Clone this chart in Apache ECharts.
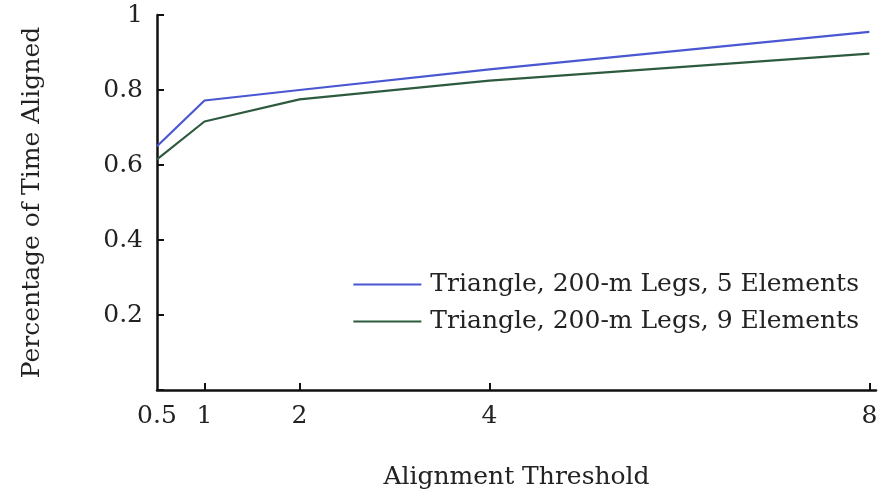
<!DOCTYPE html>
<html><head><meta charset="utf-8">
<script src="https://cdn.jsdelivr.net/npm/echarts@6/dist/echarts.min.js"></script>
<style>html,body{margin:0;padding:0;background:#fff}#c{width:884px;height:495px}</style>
</head><body><div id="c"></div>
<script>
const thresholds = [0.5, 1, 2, 4, 8];
const xTickLabels = [0.5, 1, 2, 4, 8];
const yTickLabels = [0.2, 0.4, 0.6, 0.8, 1];
const series5 = [0.650, 0.772, 0.800, 0.855, 0.955];
const series9 = [0.615, 0.716, 0.775, 0.825, 0.897];
const seriesNames = ['Triangle, 200-m Legs, 5 Elements', 'Triangle, 200-m Legs, 9 Elements'];

const font = 'DejaVu Serif';
const fs = 25;
const chart = echarts.init(document.getElementById('c'));
const toPairs = v => thresholds.map((t, i) => [t, v[i]]);
chart.setOption({
  animation: false,
  grid: {left: 157, right: 8, top: 15, bottom: 103},
  legend: {
    orient: 'vertical', right: 20, top: 267, itemWidth: 68, itemHeight: 2, itemGap: 12,
    icon: 'rect',
    textStyle: {fontFamily: font, fontSize: fs, color: '#222', padding: [0, 0, 0, 4]},
    data: seriesNames
  },
  xAxis: {
    type: 'value', min: 0.5, max: 8.07,
    name: 'Alignment Threshold', nameLocation: 'middle', nameGap: 75,
    nameTextStyle: {fontFamily: font, fontSize: fs, color: '#222'},
    axisLine: {lineStyle: {color: '#111', width: 2.5}},
    axisTick: {inside: true, length: 7, lineStyle: {width: 2}, customValues: [1, 2, 4, 8]},
    axisLabel: {customValues: xTickLabels, fontFamily: font, fontSize: fs, color: '#222', margin: 14},
    splitLine: {show: false}
  },
  yAxis: {
    type: 'value', min: 0, max: 1, interval: 0.2,
    name: 'Percentage of Time Aligned', nameLocation: 'middle', nameGap: 112,
    nameTextStyle: {fontFamily: font, fontSize: fs, color: '#222'},
    axisLine: {show: true, lineStyle: {color: '#111', width: 2.5}},
    axisTick: {inside: true, length: 7, lineStyle: {width: 2}},
    axisLabel: {customValues: yTickLabels, fontFamily: font, fontSize: fs, color: '#222', margin: 14},
    splitLine: {show: false}
  },
  series: [
    {name: seriesNames[0], type: 'line', symbol: 'none', data: toPairs(series5),
     lineStyle: {color: '#4a57d2', width: 2.2}, itemStyle: {color: '#4a57d2'}},
    {name: seriesNames[1], type: 'line', symbol: 'none', data: toPairs(series9),
     lineStyle: {color: '#2e5a3f', width: 2.2}, itemStyle: {color: '#2e5a3f'}}
  ]
});
</script></body></html>
